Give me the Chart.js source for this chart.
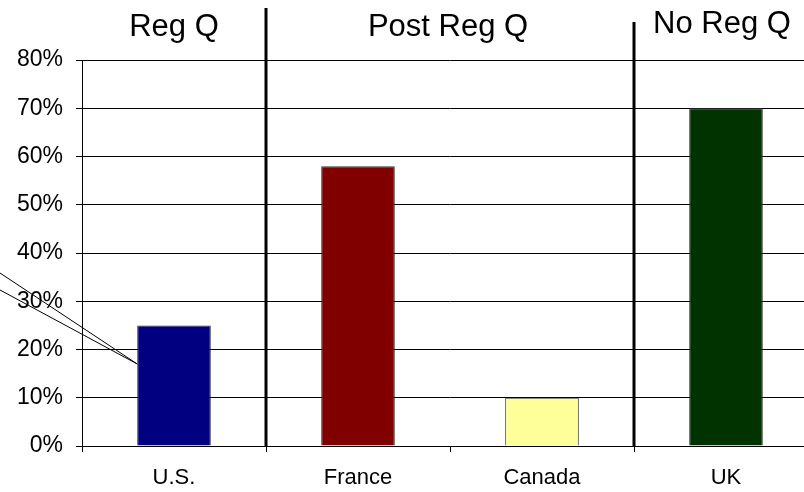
<!DOCTYPE html>
<html>
<head>
<meta charset="utf-8">
<script src="https://cdn.jsdelivr.net/npm/chart.js@4"></script>
<style>
  html, body { margin: 0; padding: 0; background: #fff; overflow: hidden; }
  #wrap { width: 840px; height: 492px; }
</style>
</head>
<body>
<div id="wrap"><canvas id="myChart" width="840" height="492"></canvas></div>
<script>
var countries = ['U.S.', 'France', 'Canada', 'UK'];
var shares = [0.25, 0.58, 0.10, 0.70];
var barColors = ['#000080', '#800000', '#FFFF99', '#003300'];
// group headers: label, category range it spans
var groups = [
  { text: 'Reg Q', from: 0, to: 0 },
  { text: 'Post Reg Q', from: 1, to: 2 },
  { text: 'No Reg Q', from: 3, to: 3 }
];
var dividers = [0.5, 2.5]; // between categories

var regimePlugin = {
  id: 'regime',
  afterDraw: function(chart) {
    var c = chart.ctx, x = chart.scales.x, y = chart.scales.y;
    var area = chart.chartArea;
    c.save();
    // thick dividers
    c.strokeStyle = '#000';
    c.lineWidth = 3;
    var tops = [8, 22];
    dividers.forEach(function(d, i) {
      var px = Math.round(x.getPixelForValue(d));
      c.beginPath();
      c.moveTo(px, tops[i]);
      c.lineTo(px, area.bottom);
      c.stroke();
    });
    // headers
    c.fillStyle = '#000';
    c.font = '31px "Liberation Sans", Arial, sans-serif';
    c.textAlign = 'center';
    c.textBaseline = 'middle';
    var ys = [27, 27, 24];
    var dx = [0, -2, -4];
    groups.forEach(function(g, i) {
      var cx = (x.getPixelForValue(g.from) + x.getPixelForValue(g.to)) / 2 + dx[i];
      c.fillText(g.text, cx, ys[i]);
    });
    // callout lines pointing at U.S. bar
    var meta = chart.getDatasetMeta(0).data[0];
    var tipX = meta.x - meta.width / 2;
    var tipY = y.getPixelForValue(0.17);
    c.lineWidth = 1;
    c.beginPath();
    c.moveTo(0, 273);
    c.lineTo(tipX, tipY);
    c.moveTo(0, 290);
    c.lineTo(tipX, tipY);
    c.stroke();
    c.restore();
  }
};

var ctx = document.getElementById('myChart').getContext('2d');
var myChart = new Chart(ctx, {
  type: 'bar',
  data: {
    labels: countries,
    datasets: [{
      data: shares,
      backgroundColor: barColors,
      borderColor: '#333',
      borderWidth: 1,
      categoryPercentage: 1,
      barPercentage: 0.4
    }]
  },
  options: {
    responsive: false,
    animation: false,
    layout: { padding: { top: 60, right: 22, left: 0, bottom: 0 } },
    plugins: {
      legend: { display: false },
      tooltip: { enabled: false }
    },
    scales: {
      y: {
        min: 0,
        max: 0.8,
        afterFit: function(s) { s.width = 82; },
        ticks: {
          stepSize: 0.1,
          padding: 13,
          color: '#000',
          font: { family: '"Liberation Sans", Arial, sans-serif', size: 23 },
          callback: function(v) { return Math.round(v * 100) + '%'; }
        },
        grid: { color: '#000', lineWidth: 1, tickLength: 6 },
        border: { color: '#000', width: 1 }
      },
      x: {
        afterFit: function(s) { s.height = 46; },
        ticks: {
          padding: 13,
          color: '#000',
          font: { family: '"Liberation Sans", Arial, sans-serif', size: 22 }
        },
        grid: { offset: true, drawOnChartArea: false, color: '#000', tickLength: 6 },
        border: { color: '#000', width: 1 }
      }
    }
  },
  plugins: [regimePlugin]
});
</script>
</body>
</html>
